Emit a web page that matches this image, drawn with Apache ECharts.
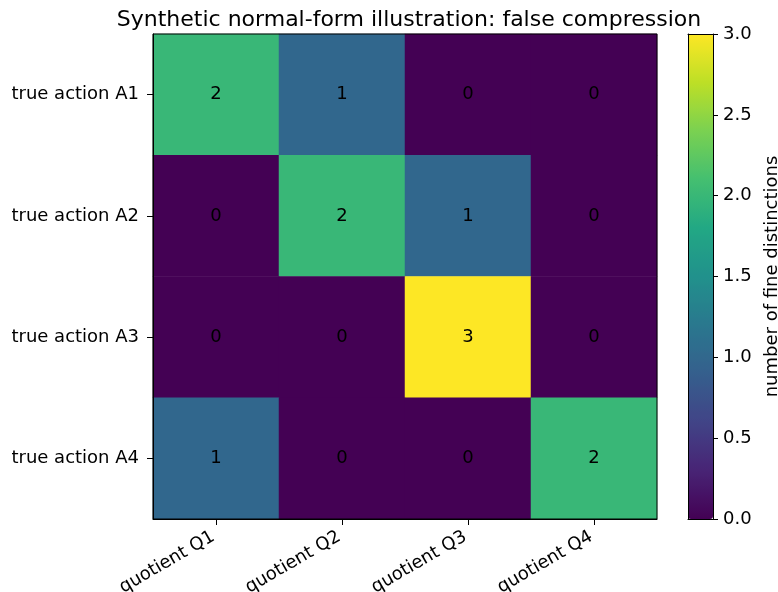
<!DOCTYPE html>
<html><head><meta charset="utf-8">
<script src="https://cdn.jsdelivr.net/npm/echarts@6/dist/echarts.min.js"></script>
<style>html,body{margin:0;padding:0;background:#fff}#c{width:778px;height:592px}</style>
</head><body><div id="c"></div>
<script>
const xCategories = ['quotient Q1','quotient Q2','quotient Q3','quotient Q4'];
const yCategories = ['true action A1','true action A2','true action A3','true action A4'];
const matrix = [
  [2,1,0,0],
  [0,2,1,0],
  [0,0,3,0],
  [1,0,0,2]
];
const colorbarTicks = [0,0.5,1,1.5,2,2.5,3];
const viridis = ['#440154','#482475','#414487','#355f8d','#2a788e','#21918c','#22a884','#44bf70','#7ad151','#bddf26','#fde725'];

const data = [];
matrix.forEach((row, yi) => row.forEach((v, xi) => data.push([xi, yi, v])));

const font = 'DejaVu Sans';
const fs = 18;
const lineOnly = {show: true, onZero: false, lineStyle: {color: '#000', width: 1}};
const chart = echarts.init(document.getElementById('c'));
chart.setOption({
  animation: false,
  textStyle: {fontFamily: font},
  title: {text: 'Synthetic normal-form illustration: false compression', left: 404, top: 4, textAlign: 'center',
    textStyle: {fontFamily: font, fontSize: 22, fontWeight: 'normal', color: '#000'}},
  grid: [
    {left: 153, top: 34, width: 504, height: 485, show: true, borderColor: '#000', borderWidth: 1, backgroundColor: 'transparent', z: 10, outerBoundsMode: 'none', containLabel: false},
    {left: 688, top: 34, width: 25, height: 485, show: false, outerBoundsMode: 'none', containLabel: false}
  ],
  xAxis: [
    {type: 'category', data: xCategories, gridIndex: 0, position: 'bottom',
     axisLine: {show: true, lineStyle: {color: '#000'}}, axisTick: {show: true, alignWithLabel: true, length: 6, lineStyle: {color: '#000'}},
     axisLabel: {rotate: 30, color: '#000', fontSize: fs, fontFamily: font, margin: 15, padding: [0, 3, 0, 0]}, splitLine: {show: false}, z: 10},
    {type: 'value', gridIndex: 1, min: 0, max: 1, position: 'bottom', axisLine: lineOnly, axisTick: {show: false}, axisLabel: {show: false}, splitLine: {show: false}, z: 10},
    {type: 'value', gridIndex: 1, min: 0, max: 1, position: 'top', axisLine: lineOnly, axisTick: {show: false}, axisLabel: {show: false}, splitLine: {show: false}, z: 10}
  ],
  yAxis: [
    {type: 'category', data: yCategories, gridIndex: 0, inverse: true,
     axisLine: {show: true, lineStyle: {color: '#000'}}, axisTick: {show: true, alignWithLabel: true, length: 6, lineStyle: {color: '#000'}},
     axisLabel: {color: '#000', fontSize: fs, fontFamily: font, margin: 14}, splitLine: {show: false}, z: 10},
    {type: 'value', gridIndex: 1, position: 'right', min: 0, max: 3, interval: 0.5,
     axisLine: lineOnly, axisTick: {show: true, length: 5, lineStyle: {color: '#000'}},
     axisLabel: {color: '#000', fontSize: fs, fontFamily: font, margin: 10, formatter: v => v.toFixed(1)},
     splitLine: {show: false},
     name: 'number of fine distinctions', nameLocation: 'middle', nameRotate: 90, nameGap: 50,
     nameTextStyle: {color: '#000', fontSize: fs, fontFamily: font}, z: 10},
    {type: 'value', gridIndex: 1, position: 'left', min: 0, max: 3,
     axisLine: lineOnly, axisTick: {show: false}, axisLabel: {show: false}, splitLine: {show: false}, z: 10}
  ],
  visualMap: [{
    type: 'continuous', seriesIndex: 0, min: 0, max: 3, calculable: false,
    left: 688, top: 34, itemWidth: 25, itemHeight: 485, padding: 0, text: null, showLabel: false,
    inRange: {color: viridis}, z: 2
  }],
  series: [
    {type: 'heatmap', xAxisIndex: 0, yAxisIndex: 0, data: data,
     label: {show: true, color: '#000', fontSize: fs, fontFamily: font},
     itemStyle: {borderWidth: 0}, emphasis: {disabled: true}},
    {type: 'line', xAxisIndex: 1, yAxisIndex: 1, data: [], silent: true}
  ]
});
</script></body></html>
